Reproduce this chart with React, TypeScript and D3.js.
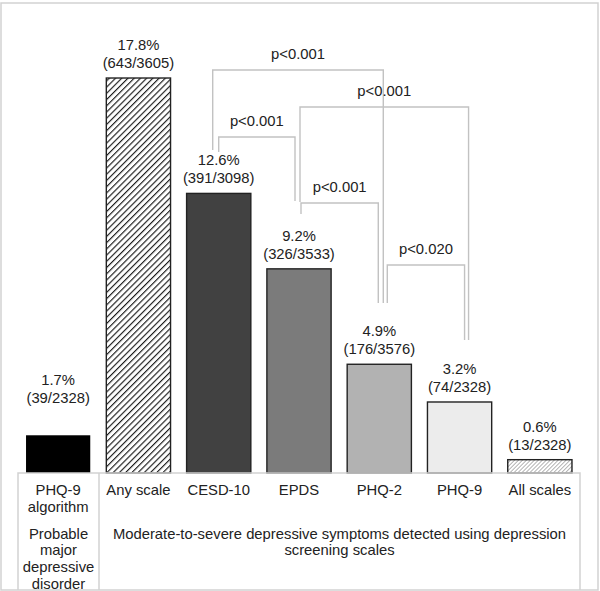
import React from "react";
import * as d3 from "d3";

const categories = ["PHQ-9 algorithm", "Any scale", "CESD-10", "EPDS", "PHQ-2", "PHQ-9", "All scales"];
const percents = [1.7, 17.8, 12.6, 9.2, 4.9, 3.2, 0.6];
const counts = ["39/2328", "643/3605", "391/3098", "326/3533", "176/3576", "74/2328", "13/2328"];
const catLabelLines = [["PHQ-9", "algorithm"], ["Any scale"], ["CESD-10"], ["EPDS"], ["PHQ-2"], ["PHQ-9"], ["All scales"]];
const groupLeftLines = ["Probable", "major", "depressive", "disorder"];
const groupRightLines = ["Moderate-to-severe depressive symptoms detected using depression", "screening scales"];

const bracketFrom = ["CESD-10", "CESD-10", "EPDS", "EPDS", "PHQ-2"];
const bracketTo = ["PHQ-2", "EPDS", "PHQ-9", "PHQ-2", "PHQ-9"];
const bracketLabels = ["p<0.001", "p<0.001", "p<0.001", "p<0.001", "p<0.020"];

// layout for brackets (pixels): level, end offsets from bar centres, drop ends
const bracketLayout = [
  { y: 70, dx1: -6, dx2: 4, b1: 150, b2: 303 },
  { y: 137, dx1: 0, dx2: -4, b1: 152, b2: 201 },
  { y: 107, dx1: 1, dx2: 9, b1: 202, b2: 340 },
  { y: 203, dx1: 2, dx2: -1, b1: 214, b2: 303 },
  { y: 265, dx1: 8, dx2: 5, b1: 303, b2: 340 },
];

const W = 600;
const H = 591;
const baseY = 473;
const tableL = 18;
const tableR = 580;
const tableSep = 99;
const FONT = "'Liberation Sans', Arial, sans-serif";
const FS = 14.8;

export default function App() {
  const x = d3.scaleBand<string>().domain(categories).range([tableL, tableR]).paddingInner(0.2).paddingOuter(0.1);
  const y = d3.scaleLinear().domain([0, 20]).range([baseY, baseY - 443.8]);
  const fills = ["#000000", "url(#hatchBig)", "#414141", "#7b7b7b", "#b2b2b2", "#ececec", "url(#hatchSmall)"];
  const cx = (c: string) => (x(c) as number) + x.bandwidth() / 2;

  return (
    <svg width={W} height={H} style={{ position: "absolute", left: 0, top: 0, background: "#fff" }} fontFamily={FONT} fontSize={FS}>
      <defs>
        <pattern id="hatchBig" patternUnits="userSpaceOnUse" width="4.4" height="4.4" patternTransform="rotate(45)">
          <rect width="4.4" height="4.4" fill="#fff" />
          <line x1="0" y1="0" x2="0" y2="4.4" stroke="#1a1a1a" strokeWidth="2.3" />
        </pattern>
        <pattern id="hatchSmall" patternUnits="userSpaceOnUse" width="2.8" height="2.8" patternTransform="rotate(45)">
          <rect width="2.8" height="2.8" fill="#fff" />
          <line x1="0" y1="0" x2="0" y2="2.8" stroke="#777" strokeWidth="1.1" />
        </pattern>
      </defs>
      <rect x={1} y={3} width={597} height={587} fill="#fff" stroke="#d2d2d2" strokeWidth={1.5} />

      {/* brackets */}
      {bracketFrom.map((f, i) => {
        const L = bracketLayout[i];
        const x1 = cx(f) + L.dx1;
        const x2 = cx(bracketTo[i]) + L.dx2;
        return (
          <g key={"b" + i}>
            <path d={`M${x1},${L.b1}V${L.y}H${x2}V${L.b2}`} fill="none" stroke="#c2c2c2" strokeWidth={1.4} />
            <text x={(x1 + x2) / 2} y={L.y - 11} textAnchor="middle" fill="#222">{bracketLabels[i]}</text>
          </g>
        );
      })}

      {/* bars */}
      {categories.map((c, i) => {
        const top = y(percents[i]);
        return (
          <g key={c}>
            <rect x={x(c)} y={top} width={x.bandwidth()} height={baseY - top} fill={fills[i]}
              stroke={i === 0 ? "none" : "#222"} strokeWidth={1.4} />
          </g>
        );
      })}

      {/* value labels */}
      {categories.map((c, i) => {
        const top = y(percents[i]);
        const b2 = top - (i === 0 ? 32 : 10);
        return (
          <g key={"l" + c} fill="#222" textAnchor="middle">
            <text x={cx(c)} y={b2 - 18}>{percents[i].toFixed(1)}%</text>
            <text x={cx(c)} y={b2}>({counts[i]})</text>
          </g>
        );
      })}

      {/* table */}
      <path d={`M${tableL},${H - 1}V${baseY}H${tableR}V${H - 1}M${tableSep},${baseY}V${H - 1}`} fill="none" stroke="#d2d2d2" strokeWidth={1.5} />
      {categories.map((c, i) => (
        <g key={"c" + c} fill="#222" textAnchor="middle">
          {catLabelLines[i].map((t, j) => (
            <text key={j} x={cx(c)} y={495 + j * 17}>{t}</text>
          ))}
        </g>
      ))}
      <g fill="#222" textAnchor="middle">
        {groupLeftLines.map((t, j) => (
          <text key={j} x={(tableL + tableSep) / 2} y={538.5 + j * 16.8}>{t}</text>
        ))}
        {groupRightLines.map((t, j) => (
          <text key={j} x={(tableSep + tableR) / 2} y={538.5 + j * 16.8}>{t}</text>
        ))}
      </g>
    </svg>
  );
}
